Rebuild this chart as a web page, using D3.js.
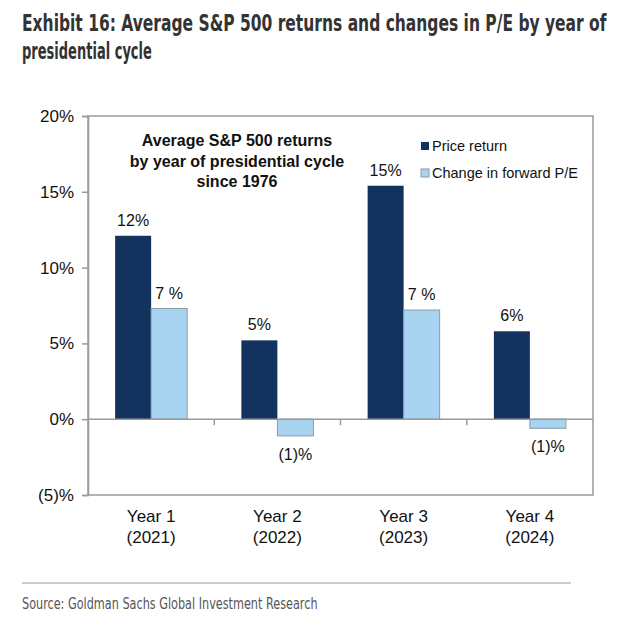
<!DOCTYPE html>
<html>
<head>
<meta charset="utf-8">
<script src="https://cdn.jsdelivr.net/npm/d3@7"></script>
<style>
  body { margin: 0; background: #fff; }
  svg { display: block; }
</style>
</head>
<body>
<div id="chart"></div>
<script>
// data
const categories = ["Year 1", "Year 2", "Year 3", "Year 4"];
const categoryYears = ["(2021)", "(2022)", "(2023)", "(2024)"];
const seriesNames = ["Price return", "Change in forward P/E"];
const priceReturn = [12.1, 5.2, 15.4, 5.8];
const peChange = [7.3, -1.1, 7.2, -0.6];
const priceLabels = ["12%", "5%", "15%", "6%"];
const peLabels = ["7 %", "(1)%", "7 %", "(1)%"];
const yTicks = [-5, 0, 5, 10, 15, 20];

const width = 630, height = 618;
const margin = { top: 116, right: 37, bottom: 123, left: 88 };
const innerW = width - margin.left - margin.right;
const innerH = height - margin.top - margin.bottom;

const svg = d3.select("#chart").append("svg")
    .attr("width", width)
    .attr("height", height);

const narrow = "'Liberation Sans Narrow', 'DejaVu Sans Condensed', 'Arial Narrow', sans-serif";

// squeeze a text horizontally to a target width (the original uses a condensed face)
function fitWidth(sel, x, y, w) {
    const len = sel.node().getComputedTextLength();
    const k = Math.min(1, w / len);
    sel.attr("x", 0).attr("y", 0)
       .attr("transform", `translate(${x},${y}) scale(${k},1)`);
}

const t1 = svg.append("text")
    .style("font-family", narrow)
    .style("font-weight", "bold")
    .style("font-size", "23px")
    .attr("fill", "#333")
    .text("Exhibit 16: Average S&P 500 returns and changes in P/E by year of");
fitWidth(t1, 22, 31, 585);
const t2 = svg.append("text")
    .style("font-family", narrow)
    .style("font-weight", "bold")
    .style("font-size", "23px")
    .attr("fill", "#333")
    .text("presidential cycle");
fitWidth(t2, 22, 59, 130);

const g = svg.append("g").attr("transform", `translate(${margin.left},${margin.top})`);

// scales
const x0 = d3.scaleBand().domain(categories).range([0, innerW]);
const groupW = 72;
const x1 = d3.scaleBand().domain(seriesNames).range([0, groupW]);
const y = d3.scaleLinear().domain([-5, 20]).range([innerH, 0]);

const font = "Arial, 'Liberation Sans', sans-serif";
const yFmt = v => v < 0 ? `(${-v})%` : `${v}%`;

// frame
g.append("rect")
    .attr("width", innerW).attr("height", innerH)
    .attr("fill", "none").attr("stroke", "#9a9a9a").attr("stroke-width", 1.5);

// y axis
const yAxis = g.append("g")
    .call(d3.axisLeft(y).tickValues(yTicks).tickFormat(yFmt).tickSize(6).tickPadding(8));
yAxis.select(".domain").attr("stroke", "#9a9a9a").attr("stroke-width", 1.5);
yAxis.selectAll(".tick line").attr("stroke", "#9a9a9a").attr("stroke-width", 1.5);
yAxis.selectAll(".tick text")
    .style("font-family", font).style("font-size", "17px").attr("fill", "#111");

const offset = (x0.bandwidth() - groupW) / 2;
const rows = categories.map((c, i) => ({ cat: c, vals: [priceReturn[i], peChange[i]], labels: [priceLabels[i], peLabels[i]] }));
const color = d3.scaleOrdinal().domain(seriesNames).range(["#14325e", "#a8d4f2"]);

const groups = g.selectAll(".grp")
    .data(rows)
    .join("g")
    .attr("transform", d => `translate(${x0(d.cat) + offset},0)`);

groups.selectAll("rect")
    .data(d => d.vals.map((v, j) => ({ key: seriesNames[j], v, label: d.labels[j] })))
    .join("rect")
    .attr("x", d => x1(d.key))
    .attr("y", d => y(Math.max(0, d.v)))
    .attr("width", x1.bandwidth())
    .attr("height", d => Math.abs(y(d.v) - y(0)))
    .attr("fill", d => color(d.key))
    .attr("stroke", d => d.key === seriesNames[1] ? "#8a9aa8" : "none")
    .attr("stroke-width", 1);

groups.selectAll("text.lbl")
    .data(d => d.vals.map((v, j) => ({ key: seriesNames[j], v, label: d.labels[j] })))
    .join("text")
    .attr("class", "lbl")
    .attr("x", d => x1(d.key) + x1.bandwidth() / 2)
    .attr("y", d => d.v >= 0 ? y(d.v) - 10 : y(d.v) + 24)
    .attr("text-anchor", "middle")
    .style("font-family", font).style("font-size", "16px").attr("fill", "#111")
    .text(d => d.label);

// zero line
g.append("line")
    .attr("x1", 0).attr("x2", innerW)
    .attr("y1", y(0)).attr("y2", y(0))
    .attr("stroke", "#9a9a9a").attr("stroke-width", 1.5);

// category boundary ticks on zero line
g.selectAll(".ctick")
    .data(categories.slice(1))
    .join("line")
    .attr("x1", d => x0(d)).attr("x2", d => x0(d))
    .attr("y1", y(0)).attr("y2", y(0) + 6)
    .attr("stroke", "#9a9a9a").attr("stroke-width", 1.5);

// category labels
const cl = g.selectAll(".clab")
    .data(categories)
    .join("text")
    .attr("text-anchor", "middle")
    .attr("x", d => x0(d) + x0.bandwidth() / 2)
    .attr("y", innerH + 27)
    .style("font-family", font).style("font-size", "17px").attr("fill", "#111");
cl.append("tspan").attr("x", d => x0(d) + x0.bandwidth() / 2).text(d => d);
cl.append("tspan").attr("x", d => x0(d) + x0.bandwidth() / 2).attr("dy", 21)
    .text((d, i) => categoryYears[i]);

// inner annotation
const note = ["Average S&P 500 returns", "by year of presidential cycle", "since 1976"];
g.selectAll(".note")
    .data(note)
    .join("text")
    .attr("x", 149)
    .attr("y", (d, i) => 30 + i * 20.5)
    .attr("text-anchor", "middle")
    .style("font-family", font).style("font-weight", "bold").style("font-size", "16px")
    .attr("fill", "#111")
    .text(d => d);

// legend
const leg = g.selectAll(".leg")
    .data(seriesNames)
    .join("g")
    .attr("transform", (d, i) => `translate(333,${35 + i * 27})`);
leg.append("rect")
    .attr("width", 8).attr("height", 8).attr("y", -9)
    .attr("fill", d => color(d))
    .attr("stroke", d => d === seriesNames[1] ? "#8a9aa8" : "none");
leg.append("text")
    .attr("x", 11)
    .style("font-family", font).style("font-size", "14.5px").attr("fill", "#111")
    .text(d => d);

// footer rule and source
svg.append("line")
    .attr("x1", 22).attr("x2", 571)
    .attr("y1", 583).attr("y2", 583)
    .attr("stroke", "#bbb").attr("stroke-width", 1.5);
const src = svg.append("text")
    .style("font-family", narrow)
    .style("font-size", "15px")
    .attr("fill", "#555")
    .text("Source: Goldman Sachs Global Investment Research");
fitWidth(src, 22, 609, 296);
</script>
</body>
</html>
